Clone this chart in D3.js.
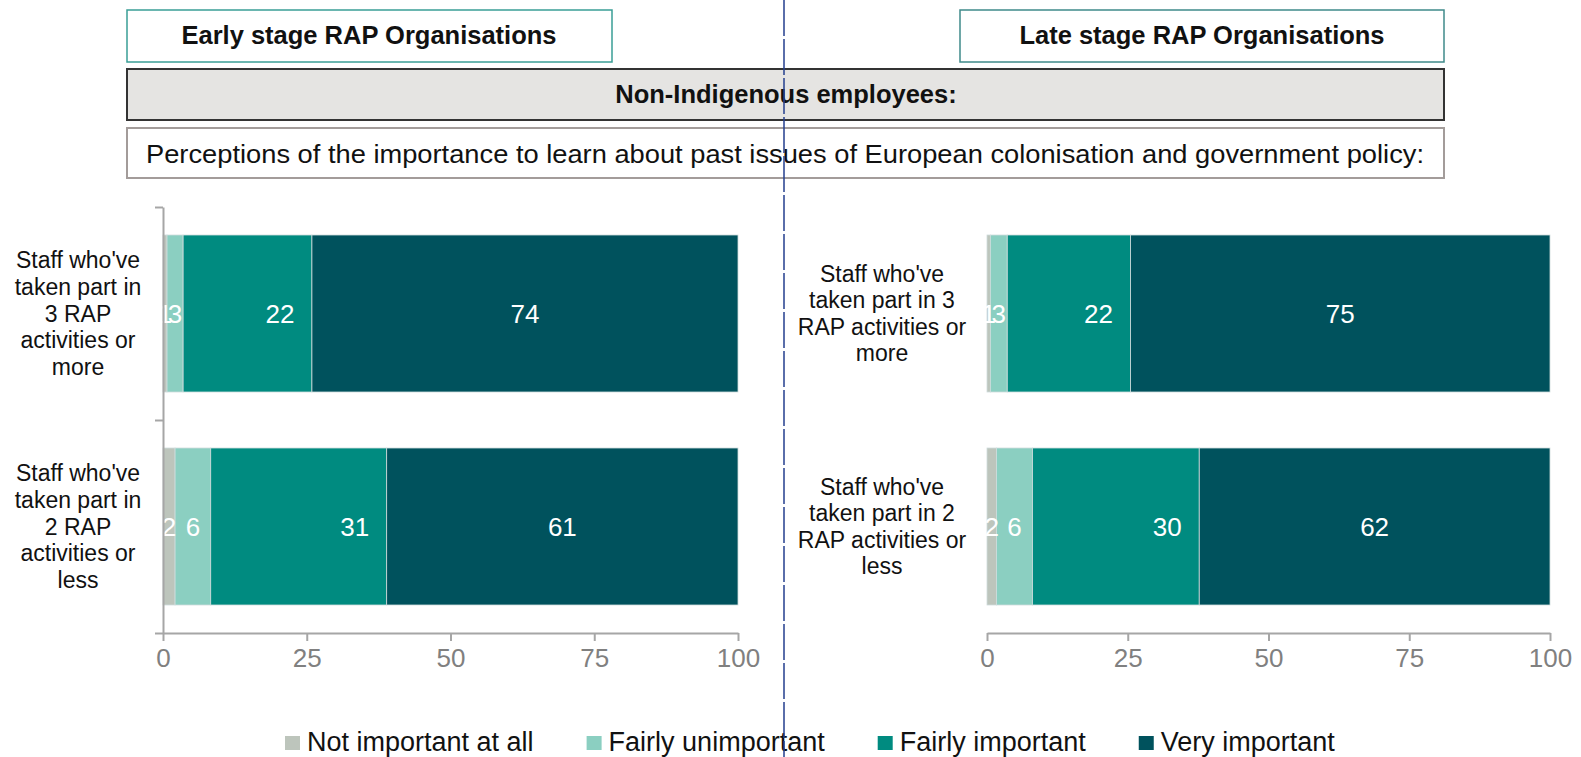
<!DOCTYPE html>
<html>
<head>
<meta charset="utf-8">
<script src="https://cdnjs.cloudflare.com/ajax/libs/d3/7.8.5/d3.min.js"></script>
<style>
  html, body { margin: 0; padding: 0; background: #fff; }
  svg { display: block; font-family: "Liberation Sans", Arial, sans-serif; }
</style>
</head>
<body>
<svg width="1581" height="757"></svg>
<script>
// legend / series
var seriesNames = ["Not important at all", "Fairly unimportant", "Fairly important", "Very important"];
var seriesColors = ["#bdc5bc", "#8bcfc1", "#008b80", "#00525d"];

// rows (same order in both panels)
var earlyLabels = [
  ["Staff who've", "taken part in", "3 RAP", "activities or", "more"],
  ["Staff who've", "taken part in", "2 RAP", "activities or", "less"]
];
var lateLabels = [
  ["Staff who've", "taken part in 3", "RAP activities or", "more"],
  ["Staff who've", "taken part in 2", "RAP activities or", "less"]
];

// percentages per row, one value per series
var earlyValues = [
  [0.7, 2.8, 22.4, 74.1],
  [2.1, 6.2, 30.6, 61.1]
];
var lateValues = [
  [0.6, 3.0, 21.9, 74.5],
  [1.7, 6.4, 29.6, 62.3]
];

var xTicks = [0, 25, 50, 75, 100];

var svg = d3.select("svg");
var axisColor = "#a6a6a6";

// header boxes
function box(x, y, w, h, fill, stroke, sw) {
  svg.append("rect").attr("x", x).attr("y", y).attr("width", w).attr("height", h)
    .attr("fill", fill).attr("stroke", stroke).attr("stroke-width", sw);
}
box(127, 10, 485, 52, "#fff", "#3a9e96", 1.5);
box(960, 10, 484, 52, "#fff", "#3f8a8a", 1.5);
box(127, 69, 1317, 51, "#e5e4e2", "#333", 2);
box(127, 128, 1317, 50, "#fff", "#a39c9a", 2);

svg.append("text").attr("x", 369).attr("y", 44).attr("text-anchor", "middle")
  .attr("font-size", 25.5).attr("font-weight", "bold").attr("fill", "#111")
  .text("Early stage RAP Organisations");
svg.append("text").attr("x", 1202).attr("y", 44).attr("text-anchor", "middle")
  .attr("font-size", 25.5).attr("font-weight", "bold").attr("fill", "#111")
  .text("Late stage RAP Organisations");
svg.append("text").attr("x", 786).attr("y", 103).attr("text-anchor", "middle")
  .attr("font-size", 25.5).attr("font-weight", "bold").attr("fill", "#111")
  .text("Non-Indigenous employees:");
svg.append("text").attr("x", 146).attr("y", 163).attr("text-anchor", "start")
  .attr("font-size", 26).attr("fill", "#111")
  .attr("textLength", 1278).attr("lengthAdjust", "spacingAndGlyphs")
  .text("Perceptions of the importance to learn about past issues of European colonisation and government policy:");

// shared y band scale
var y = d3.scaleBand().domain([0, 1]).range([207, 633]).paddingInner(0.263).paddingOuter(0.1315);

function panel(values, labels, x0, x1, labelX, showYAxis) {
  var x = d3.scaleLinear().domain([0, 100]).range([x0, x1]);
  var g = svg.append("g");

  var stacked = d3.stack().keys([0, 1, 2, 3])(values);

  var layers = g.selectAll("g.layer").data(stacked).enter().append("g")
    .attr("fill", function(d, i) { return seriesColors[i]; });

  layers.selectAll("rect").data(function(d) { return d; }).enter().append("rect")
    .attr("x", function(d) { return x(d[0]); })
    .attr("y", function(d, i) { return y(i); })
    .attr("width", function(d) { return x(d[1]) - x(d[0]); })
    .attr("height", y.bandwidth())
    .attr("stroke", "#cfdcdc").attr("stroke-width", 0.8);

  // value labels
  stacked.forEach(function(layer, s) {
    g.selectAll(null).data(layer).enter().append("text")
      .attr("x", function(d) {
        if (s === 2) return x(d[1]) - 32;
        return (x(d[0]) + x(d[1])) / 2;
      })
      .attr("y", function(d, i) { return y(i) + y.bandwidth() / 2 + 9; })
      .attr("text-anchor", "middle").attr("font-size", 26).attr("fill", "#fff")
      .text(function(d) { return Math.round(d[1] - d[0]); });
  });

  // x axis
  var xAxis = d3.axisBottom(x).tickValues(xTicks).tickSize(8).tickSizeOuter(0).tickPadding(8);
  var ax = g.append("g").attr("transform", "translate(0,633)").call(xAxis);
  ax.select(".domain").attr("stroke", axisColor).attr("stroke-width", 2);
  ax.selectAll(".tick line").attr("stroke", axisColor).attr("stroke-width", 2);
  ax.selectAll(".tick text").attr("font-size", 26).attr("fill", "#808080")
    .attr("font-family", "Liberation Sans, Arial, sans-serif");

  if (showYAxis) {
    var yAxis = d3.axisLeft(d3.scaleLinear().domain([0, 2]).range([633, 207]))
      .tickValues([0, 1, 2]).tickSize(8).tickFormat("").tickSizeOuter(0);
    var ay = g.append("g").attr("transform", "translate(" + x0 + ",0)").call(yAxis);
    ay.select(".domain").attr("stroke", axisColor).attr("stroke-width", 2);
    ay.selectAll(".tick line").attr("stroke", axisColor).attr("stroke-width", 2);
  }

  // category labels
  labels.forEach(function(lines, i) {
    var cy = y(i) + y.bandwidth() / 2;
    var lh = 26.6;
    var t = g.append("text").attr("text-anchor", "middle").attr("font-size", 23).attr("fill", "#111");
    lines.forEach(function(line, k) {
      t.append("tspan").attr("x", labelX)
        .attr("y", cy + (k - (lines.length - 1) / 2) * lh + 8)
        .text(line);
    });
  });
}

panel(earlyValues, earlyLabels, 163, 738, 78, true);
panel(lateValues, lateLabels, 987, 1550, 882, false);

// legend
var lg = svg.append("g");
var lx = 285;
seriesNames.forEach(function(name, i) {
  lg.append("rect").attr("x", lx).attr("y", 736).attr("width", 15).attr("height", 14)
    .attr("fill", seriesColors[i]);
  var t = lg.append("text").attr("x", lx + 22).attr("y", 751)
    .attr("font-size", 27).attr("fill", "#111").text(name);
  lx += 22 + t.node().getComputedTextLength() + 53;
});

// dashed divider
svg.append("line").attr("x1", 784).attr("x2", 784).attr("y1", 0).attr("y2", 757)
  .attr("stroke", "#243f8f").attr("stroke-width", 1.5).attr("stroke-dasharray", "36,3");
</script>
</body>
</html>
